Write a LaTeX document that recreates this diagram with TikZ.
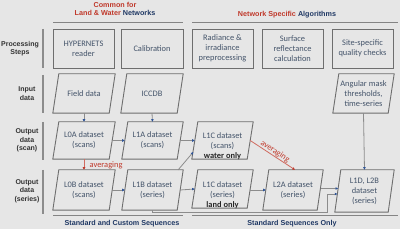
\documentclass[tikz,border=0pt]{standalone}
\usepackage{fontspec}
\setmainfont{Carlito}
\newfontfamily\hdr{Liberation Sans}
\usetikzlibrary{arrows.meta,calc}
\definecolor{bg}{HTML}{E6E6E6}
\definecolor{boxc}{HTML}{6E6E6E}
\definecolor{txt}{HTML}{44546A}
\definecolor{lnc}{HTML}{8C8C8C}
\definecolor{tipc}{HTML}{2F5597}
\definecolor{redc}{HTML}{C0392B}
\definecolor{navy}{HTML}{1F3864}
\definecolor{lbl}{HTML}{333333}
\begin{document}
\begin{tikzpicture}[x=1pt,y=-1pt,
 box/.style={draw=boxc, line width=0.9pt, minimum width=61pt, minimum height=39pt, inner sep=0pt, text=txt, font=\fontsize{8.4}{10}\selectfont, align=center},
 pbox/.style={minimum width=62pt, inner sep=0pt, text=txt, font=\fontsize{8.4}{10}\selectfont, align=center},
 btxt/.style={text=txt, font=\fontsize{8.4}{10}\selectfont, align=center, inner sep=0pt},
 pline/.style={draw=boxc, line width=0.9pt},
 conn/.style={draw=lnc, line width=0.8pt, -{Triangle[length=2.6pt,width=2.4pt,color=tipc]}},
 redconn/.style={draw=redc!75, line width=0.8pt, -{Triangle[length=2.6pt,width=2.4pt,color=redc]}},
 redlbl/.style={text=redc, font=\fontsize{8.4}{10}\selectfont, inner sep=0.5pt},
 hdrtxt/.style={font=\hdr\bfseries\fontsize{7.2}{8.5}\selectfont, align=center, inner sep=0pt},
 sidelbl/.style={font=\hdr\bfseries\fontsize{7}{8.5}\selectfont, text=lbl, align=center, inner sep=0pt},
 sidebar/.style={draw=lnc, line width=1.2pt},
 hrule/.style={draw=boxc!85, line width=1pt}]

\fill[bg] (0,0) rectangle (400,229);
\useasboundingbox (0,0) rectangle (400,229);

% headers
\node[hdrtxt] (t1) at (115,9) {\textcolor{redc}{Common for}\\\textcolor{redc}{Land \& Water} \textcolor{navy}{Networks}};
\node[hdrtxt] (t2) at (287,15) {\textcolor{redc}{Network Specific} \textcolor{navy}{Algorithms}};
\draw[hrule] (53,23) -- (183,23);
\draw[hrule] (192,23) -- (398,23);
\draw[hrule] (53,216) -- (183,216);
\draw[hrule] (192,216) -- (398,216);
\node[hdrtxt, text=navy] (b1) at (122,224) {Standard and Custom Sequences};
\node[hdrtxt, text=navy] (b2) at (292,224) {Standard Sequences Only};

% side labels
\node[sidelbl] (s1) at (20,48.5) {Processing\\Steps};
\node[sidelbl] (s2) at (27,93.5) {Input\\data};
\node[sidelbl] (s3) at (27,140.5) {Output\\data\\(scan)};
\node[sidelbl] (s4) at (27,191) {Output\\data\\(series)};
\draw[sidebar] (43,29) -- (43,68);
\draw[sidebar] (43,75) -- (43,113);
\draw[sidebar] (43,122) -- (43,160);
\draw[sidebar] (43,170) -- (43,214);

% processing steps
\node[box] (hyp) at (83.5,48.5) {HYPERNETS\\reader};
\node[box, minimum width=62pt] (cal) at (152,48.5) {Calibration};
\node[box] (rad) at (222.5,48.5) {Radiance \&\\irradiance\\preprocessing};
\node[box] (surf) at (292.5,48.5) {Surface\\reflectance\\calculation};
\node[box] (site) at (362.5,48.5) {Site-specific\\quality checks};

% input data
\node[pbox, minimum height=39pt] (field) at (84,93.5) {Field data};
\node[pbox, minimum height=39pt] (iccdb) at (152,93.5) {ICCDB};
\node[pbox, minimum height=39pt, minimum width=61pt] (ang) at (363.5,93.5) {Angular mask\\thresholds,\\time-series};

% output scan
\node[pbox, minimum height=37pt] (l0a) at (84,140.5) {L0A dataset\\(scans)};
\node[pbox, minimum height=37pt, minimum width=61pt] (l1a) at (152.5,140.5) {L1A dataset\\(scans)};
\node[pbox, minimum height=37pt, minimum width=61pt] (l1cs) at (222.5,140.5) {};
\node[btxt] (l1cst) at ([yshift=-6pt]l1cs.center) {L1C dataset\\(scans)\\\textcolor{black!85}{\textbf{water only}}};

% output series
\node[pbox, minimum height=40pt] (l0b) at (84,190) {L0B dataset\\(scans)};
\node[pbox, minimum height=40pt, minimum width=61pt] (l1b) at (152.5,190) {L1B dataset\\(series)};
\node[pbox, minimum height=38pt, minimum width=61pt] (l1cr) at (222.5,189) {};
\node[btxt] (l1crt) at ([yshift=-6pt]l1cr.center) {L1C dataset\\(series)\\\textcolor{black!85}{\textbf{land only}}};
\node[pbox, minimum height=40pt, minimum width=60pt] (l2a) at (293,190) {L2A dataset\\(series)};
\node[pbox, minimum height=42pt, minimum width=59pt] (l1d) at (364.5,191) {L1D, L2B\\dataset\\(series)};

\foreach \n in {field,iccdb,ang,l0a,l1a,l1cs,l0b,l1b,l1cr,l2a,l1d}
  \draw[pline] (\n.south west) -- ([xshift=6pt]\n.north west) -- (\n.north east) -- ([xshift=-6pt]\n.south east) -- cycle;

% connectors
\draw[conn] (field.south) -- (l0a.north);
\draw[conn] (iccdb.south) -- (l1a.north);
\draw[conn] (ang.south) -- (l1d.north);
\draw[conn] ([xshift=-3pt]l0a.east) -- ([xshift=3pt]l1a.west);
\draw[conn] ([xshift=-3pt]l1a.east) -- ([xshift=3pt]l1cs.west);
\draw[conn] ([xshift=-3pt]l0b.east) -- ([xshift=3pt]l1b.west);
\draw[conn] ([xshift=-3pt]l1b.east) -- ([xshift=3pt]l1cr.west);
\draw[conn] ([xshift=-3pt,yshift=-1pt]l1cr.east) -- ([xshift=3pt]l2a.west);
\draw[conn] ([xshift=-5pt]l1b.north east) -- ([xshift=1.5pt,yshift=-11.5pt]l1cs.west);
\coordinate (a1) at ([xshift=-2.5pt,yshift=1.5pt]l2a.east);
\coordinate (a2) at ([xshift=3.4pt]l1d.west);
\draw[conn] (a1) -- (a1 -| a2);
\coordinate (r1) at (327,212);
\coordinate (c1) at ([xshift=2.6pt,yshift=-3pt]l1d.west);
\draw[conn] (l1b.south) |- (r1) |- (c1);

\draw[redconn] (l0a.south) -- (l0b.north);
\node[redlbl, anchor=west] (avg1) at (89,165.5) {averaging};
\draw[redconn] ([xshift=-3pt]l1cs.east) -- node[redlbl, midway, above, sloped] (avg2) {averaging} ([xshift=2pt]l2a.north);
\end{tikzpicture}
\end{document}
